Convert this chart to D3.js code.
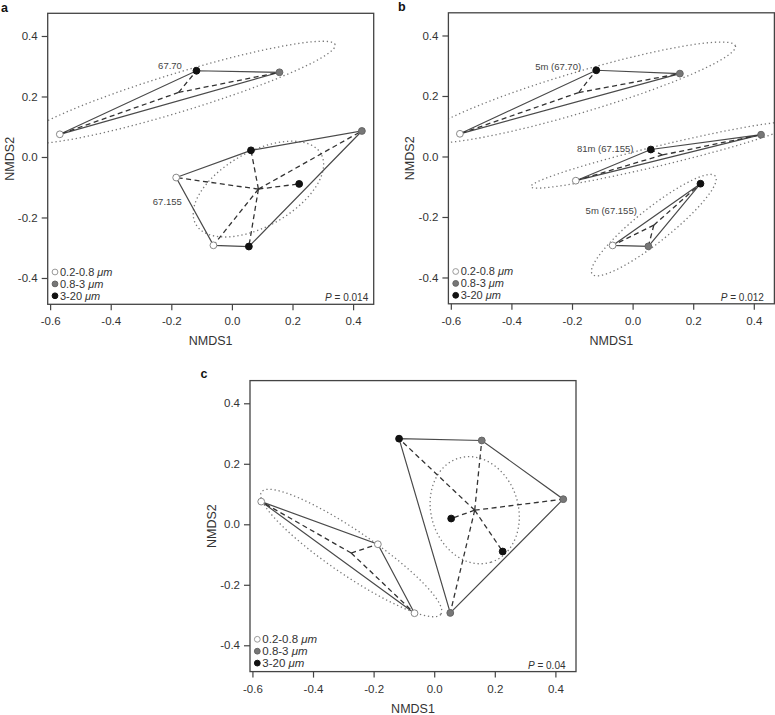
<!DOCTYPE html>
<html>
<head>
<meta charset="utf-8">
<script src="https://cdn.jsdelivr.net/npm/d3@7"></script>
<style>
  body { margin: 0; background: #fff; }
  svg { display: block; font-family: "Liberation Sans", Arial, sans-serif; }
</style>
</head>
<body>
<div id="chart"></div>
<script>
// size fractions (legend) : 0 = open, 1 = grey, 2 = black
const fractionLabels = ["0.2-0.8", "0.8-3", "3-20"];
const xTicks = [-0.6, -0.4, -0.2, 0.0, 0.2, 0.4];
const yTicks = [-0.4, -0.2, 0.0, 0.2, 0.4];
const xDomain = [-0.608, 0.468];
const yDomain = [-0.487, 0.475];

// panel a : grouped by station
const aX = [-0.568, -0.117, 0.157, -0.184, 0.063, 0.429, 0.222, -0.061, 0.056];
const aY = [0.075, 0.285, 0.280, -0.068, 0.022, 0.086, -0.089, -0.292, -0.296];
const aFraction = [0, 2, 1, 0, 2, 1, 2, 0, 2];
const aGroup = ["67.70", "67.70", "67.70", "67.155", "67.155", "67.155", "67.155", "67.155", "67.155"];
const aLabelText = ["67.70", "67.155"];
const aLabelX = [-0.165, -0.165];
const aLabelY = [0.302, -0.148];
const aP = "0.014";

// panel b : grouped by depth and station
const bX = [-0.570, -0.120, 0.156, -0.1875, 0.060, 0.424, -0.066, 0.052, 0.224];
const bY = [0.075, 0.285, 0.274, -0.080, 0.023, 0.072, -0.294, -0.297, -0.090];
const bFraction = [0, 2, 1, 0, 2, 1, 0, 1, 2];
const bGroup = ["5m67.70", "5m67.70", "5m67.70", "81m67.155", "81m67.155", "81m67.155", "5m67.155", "5m67.155", "5m67.155"];
const bLabelText = ["5m (67.70)", "81m (67.155)", "5m (67.155)"];
const bLabelX = [-0.170, 0.003, 0.014];
const bLabelY = [0.298, 0.026, -0.179];
const bP = "0.012";

// panel c : grouped by size fraction
const cX = [-0.571, -0.186, -0.065, -0.116, 0.157, 0.426, 0.056, 0.226, 0.053];
const cY = [0.075, -0.066, -0.294, 0.283, 0.277, 0.083, 0.019, -0.090, -0.293];
const cFraction = [0, 0, 0, 2, 1, 1, 2, 2, 1];
const cGroup = ["small", "small", "small", "large", "large", "large", "large", "large", "large"];
const cP = "0.04";

const width = 775, height = 715;
const pw = 326, ph = 291;

const fillCol = ["#fff", "#777", "#111"];
const strokeCol = ["#888", "#666", "#111"];

const svg = d3.select("#chart").append("svg")
  .attr("width", width)
  .attr("height", height);

svg.append("rect").attr("width", width).attr("height", height).attr("fill", "#fff");

const chi95 = Math.sqrt(-2 * Math.log(0.05)); // sqrt(qchisq(0.95, 2))

const panels = [
  { id: "a", left: 47.7, top: 13.3, xs: aX, ys: aY, fr: aFraction, grp: aGroup,
    labText: aLabelText, labX: aLabelX, labY: aLabelY, p: aP, pOff: 5.5, legSize: 11,
    letterX: 1, letterY: 11.5, conf: chi95 },
  { id: "b", left: 448.4, top: 12.8, xs: bX, ys: bY, fr: bFraction, grp: bGroup,
    labText: bLabelText, labX: bLabelX, labY: bLabelY, p: bP, pOff: 10.5, legSize: 11,
    letterX: 398, letterY: 10.5, conf: chi95 },
  { id: "c", left: 250, top: 380.6, xs: cX, ys: cY, fr: cFraction, grp: cGroup,
    labText: [], labX: [], labY: [], p: cP, pOff: 10.5, legSize: 11.5,
    letterX: 200.5, letterY: 378, conf: 1.96 }
];

// confidence ellipse of the group centroid (like ordiellipse kind = "se")
function seEllipse(pts, conf) {
  const n = pts.length;
  const mx = d3.mean(pts, d => d[0]), my = d3.mean(pts, d => d[1]);
  let sxx = 0, syy = 0, sxy = 0;
  pts.forEach(d => {
    sxx += (d[0] - mx) ** 2;
    syy += (d[1] - my) ** 2;
    sxy += (d[0] - mx) * (d[1] - my);
  });
  sxx /= n - 1; syy /= n - 1; sxy /= n - 1;
  const half = (sxx + syy) / 2;
  const r = Math.sqrt(((sxx - syy) / 2) ** 2 + sxy ** 2);
  const l1 = half + r, l2 = Math.max(half - r, 0);
  const th = 0.5 * Math.atan2(2 * sxy, sxx - syy);
  const k = conf / Math.sqrt(n);
  const a = k * Math.sqrt(l1), b = k * Math.sqrt(l2);
  return d3.range(0, 101).map(i => {
    const t = i / 100 * 2 * Math.PI;
    const ex = a * Math.cos(t), ey = b * Math.sin(t);
    return [mx + ex * Math.cos(th) - ey * Math.sin(th), my + ex * Math.sin(th) + ey * Math.cos(th)];
  });
}

panels.forEach(P => {
  const x = d3.scaleLinear().domain(xDomain).range([0, pw]);
  const y = d3.scaleLinear().domain(yDomain).range([ph, 0]);

  const g = svg.append("g").attr("transform", `translate(${P.left},${P.top})`);

  g.append("clipPath").attr("id", "clip-" + P.id)
    .append("rect").attr("width", pw).attr("height", ph);

  const plot = g.append("g").attr("clip-path", `url(#clip-${P.id})`);

  const pts = P.xs.map((v, i) => ({ x: v, y: P.ys[i], f: P.fr[i], g: P.grp[i] }));
  const groups = d3.groups(pts, d => d.g);

  const line = d3.line().x(d => x(d[0])).y(d => y(d[1]));

  // ellipses
  groups.forEach(([key, arr]) => {
    plot.append("path")
      .attr("d", line(seEllipse(arr.map(d => [d.x, d.y]), P.conf)))
      .attr("fill", "none")
      .attr("stroke", "#777")
      .attr("stroke-width", 1.3)
      .attr("stroke-dasharray", "1.3,2.8");
  });

  // hulls
  groups.forEach(([key, arr]) => {
    const hull = d3.polygonHull(arr.map(d => [d.x, d.y]));
    plot.append("path")
      .attr("d", line(hull) + "Z")
      .attr("fill", "none")
      .attr("stroke", "#4a4a4a")
      .attr("stroke-width", 1.2);
  });

  // spiders
  groups.forEach(([key, arr]) => {
    const cx = d3.mean(arr, d => d.x), cy = d3.mean(arr, d => d.y);
    plot.selectAll(null)
      .data(arr)
      .enter()
      .append("line")
        .attr("x1", x(cx)).attr("y1", y(cy))
        .attr("x2", d => x(d.x)).attr("y2", d => y(d.y))
        .attr("stroke", "#333")
        .attr("stroke-width", 1.3)
        .attr("stroke-dasharray", "5,3.5");
  });

  // points
  plot.selectAll("circle.pt")
    .data(pts)
    .enter()
    .append("circle")
      .attr("class", "pt")
      .attr("cx", d => x(d.x))
      .attr("cy", d => y(d.y))
      .attr("r", 3.4)
      .attr("fill", d => fillCol[d.f])
      .attr("stroke", d => strokeCol[d.f])
      .attr("stroke-width", 1);

  // station labels
  g.selectAll("text.lab")
    .data(P.labText)
    .enter()
    .append("text")
      .attr("class", "lab")
      .attr("x", (d, i) => x(P.labX[i]))
      .attr("y", (d, i) => y(P.labY[i]))
      .attr("dy", "0.35em")
      .attr("text-anchor", "end")
      .attr("font-size", 9.5)
      .attr("fill", "#444")
      .text(d => d);

  // frame
  g.append("rect")
    .attr("width", pw).attr("height", ph)
    .attr("fill", "none")
    .attr("stroke", "#444")
    .attr("stroke-width", 1.3);

  // axes
  const xAxis = g.append("g").attr("transform", `translate(0,${ph})`)
    .call(d3.axisBottom(x).tickValues(xTicks).tickFormat(d3.format(".1f")).tickSize(6).tickPadding(4));
  const yAxis = g.append("g")
    .call(d3.axisLeft(y).tickValues(yTicks).tickFormat(d3.format(".1f")).tickSize(6).tickPadding(4));
  [xAxis, yAxis].forEach(ax => {
    ax.select(".domain").remove();
    ax.selectAll(".tick line").attr("stroke", "#444").attr("stroke-width", 1.2);
    ax.selectAll(".tick text")
      .attr("fill", "#333")
      .attr("font-size", 11.5)
      .attr("font-family", "Liberation Sans, Arial, sans-serif")
      .text(d => d3.format(".1f")(d).replace("−", "-"));
  });
  xAxis.selectAll(".tick text").attr("dy", "0.95em");

  g.append("text")
    .attr("x", pw / 2).attr("y", ph + 41)
    .attr("text-anchor", "middle")
    .attr("font-size", 12.5)
    .attr("fill", "#333")
    .text("NMDS1");

  g.append("text")
    .attr("transform", `translate(-34,${ph / 2}) rotate(-90)`)
    .attr("text-anchor", "middle")
    .attr("font-size", 12.5)
    .attr("fill", "#333")
    .text("NMDS2");

  // legend
  const leg = g.append("g");
  fractionLabels.forEach((lab, i) => {
    const ly = ph - 32.3 + i * 11.9;
    leg.append("circle")
      .attr("cx", 7.3).attr("cy", ly).attr("r", 2.9)
      .attr("fill", fillCol[i]).attr("stroke", i === 0 ? "#999" : strokeCol[i]);
    const t = leg.append("text")
      .attr("x", 12.3).attr("y", ly).attr("dy", "0.35em")
      .attr("font-size", P.legSize)
      .attr("fill", "#333");
    t.append("tspan").text(lab + " ");
    t.append("tspan").attr("font-style", "italic").text("\u03bcm");
  });

  // P value
  const pt = g.append("text")
    .attr("x", pw - P.pOff).attr("y", ph - 6.5)
    .attr("dy", "0.35em")
    .attr("text-anchor", "end")
    .attr("font-size", 10)
    .attr("fill", "#333");
  pt.append("tspan").attr("font-style", "italic").text("P");
  pt.append("tspan").text(" = " + P.p);

  // panel letter
  svg.append("text")
    .attr("x", P.letterX).attr("y", P.letterY)
    .attr("font-size", 12.5)
    .attr("font-weight", "bold")
    .attr("fill", "#111")
    .text(P.id);
});
</script>
</body>
</html>
